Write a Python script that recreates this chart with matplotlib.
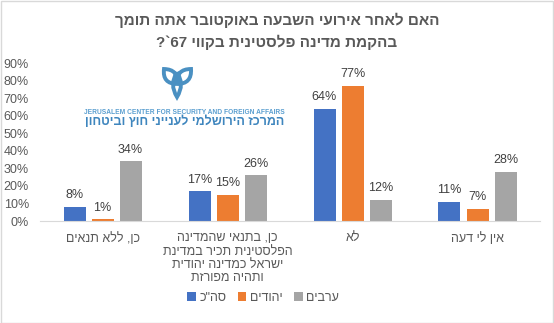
import re
import matplotlib
matplotlib.use("Agg")
import matplotlib.pyplot as plt
from matplotlib.patches import Rectangle, PathPatch
from matplotlib.path import Path
import numpy as np

plt.rcParams['font.family'] = ['Liberation Sans', 'DejaVu Sans']

# ---- data ----
categories = [
    "כן, ללא תנאים",
    "כן, בתנאי שהמדינה\nהפלסטינית תכיר במדינת\nישראל כמדינה יהודית\nותהיה מפורזת",
    "לא",
    "אין לי דעה",
]
series_names = ['סה"כ', "יהודים", "ערבים"]
total = [8, 17, 64, 11]
jews = [1, 15, 77, 7]
arabs = [34, 26, 12, 28]
colors = ["#4472C4", "#ED7D31", "#A5A5A5"]
yticks = [0, 10, 20, 30, 40, 50, 60, 70, 80, 90]
title_lines = ["האם לאחר אירועי השבעה באוקטובר אתה תומך",
               "בהקמת מדינה פלסטינית בקווי 67`?"]
logo_en = "JERUSALEM CENTER FOR SECURITY AND FOREIGN AFFAIRS"
logo_he = "המרכז הירושלמי לענייני חוץ וביטחון"


def visual(s):
    """Right-to-left text in display order (digit runs kept left-to-right)."""
    out = []
    for line in s.split("\n"):
        r = line[::-1]
        r = re.sub(r"\d+", lambda m: m.group(0)[::-1], r)
        out.append(r)
    return "\n".join(out)


def leaf(p0, p1, bulge):
    """Closed pointed-oval outline between two tips."""
    p0, p1 = np.array(p0, float), np.array(p1, float)
    d = p1 - p0
    n = np.array([-d[1], d[0]]) / np.hypot(*d)
    m = (p0 + p1) / 2
    c1 = m + n * bulge * 2
    c2 = m - n * bulge * 2
    verts = [p0, c1, p1, c2, p0]
    codes = [Path.MOVETO, Path.CURVE3, Path.CURVE3, Path.CURVE3, Path.CURVE3]
    return Path(verts, codes)


W, H = 554, 323
fig = plt.figure(figsize=(W / 100, H / 100), dpi=100)
fig.patch.set_facecolor("white")
fig.patches.append(Rectangle((0.5 / W, 0.5 / H), 1 - 1.5 / W, 1 - 1.5 / H,
                             transform=fig.transFigure, fill=False,
                             edgecolor="#D9D9D9", linewidth=1))

ax = fig.add_axes([40 / W, 1 - 221 / H, 500 / W, 158 / H])
values = [total, jews, arabs]
x = np.arange(len(categories))
step = 0.224
width = 0.176
for i, (vals, col, name) in enumerate(zip(values, colors, series_names)):
    pos = x + (i - 1) * step
    bars = ax.bar(pos, vals, width=width, color=col, label=visual(name), zorder=2)
    for b, v in zip(bars, vals):
        ax.annotate(f"{v}%", (b.get_x() + b.get_width() / 2, v),
                    xytext=(0, 4), textcoords="offset points",
                    ha="center", va="bottom", fontsize=9, color="#404040")

ax.set_xlim(-0.5, len(categories) - 0.5)
ax.set_ylim(0, 90)
ax.set_yticks(yticks)
ax.set_yticklabels([f"{t}%" for t in yticks], fontsize=9, color="#595959")
ax.set_xticks(x)
ax.set_xticklabels([visual(c) for c in categories], fontsize=9,
                   color="#595959", linespacing=1.15, va="top")
ax.tick_params(axis="both", length=0)
ax.tick_params(axis="y", pad=8)
ax.tick_params(axis="x", pad=8)
for s in ["top", "left", "right"]:
    ax.spines[s].set_visible(False)
ax.spines["bottom"].set_color("#D9D9D9")
ax.set_facecolor("none")

# title
fig.text(0.5, 1 - 20 / H, visual(title_lines[0]), ha="center", va="center",
         fontsize=11, fontweight="bold", color="#595959")
fig.text(0.5, 1 - 42 / H, visual(title_lines[1]), ha="center", va="center",
         fontsize=11, fontweight="bold", color="#595959")

# legend
leg = fig.legend(loc="center", bbox_to_anchor=(263 / W, 1 - 298 / H), ncol=3,
                 frameon=False, fontsize=9, handlelength=0.7, handleheight=0.7,
                 handletextpad=0.3, columnspacing=0.9)
for t in leg.get_texts():
    t.set_color("#595959")

# logo: knot symbol and institute name
lax = fig.add_axes([0, 0, 1, 1])
lax.set_xlim(0, W)
lax.set_ylim(H, 0)
lax.axis("off")
logo_col = "#4A90C2"
knot = [((177, 84), (164, 69), 5.5),
        ((177, 84), (191, 69), 5.5),
        ((177, 72), (177, 97), 4.0)]
for p0, p1, bulge in knot:
    lax.add_patch(PathPatch(leaf(p0, p1, bulge), fill=False,
                            edgecolor=logo_col, linewidth=2.8,
                            joinstyle="miter"))
lax.text(184.5, 112, logo_en, ha="center", va="center", fontsize=4.8,
         fontweight="bold", color="#5B9FD0")
lax.text(184.5, 121.5, visual(logo_he), ha="center", va="center", fontsize=9,
         fontweight="bold", color="#3F86BE")

fig.savefig("out.png", dpi=100)
